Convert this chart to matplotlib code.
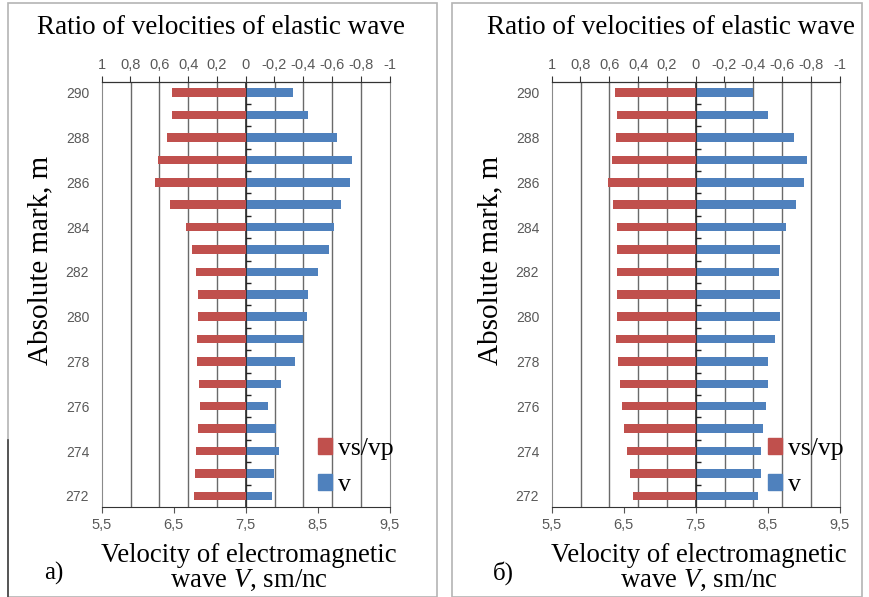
import numpy as np
import matplotlib
matplotlib.use("Agg")
import matplotlib.pyplot as plt
from matplotlib.patches import Rectangle, Patch

plt.rcParams['mathtext.fontset'] = 'custom'
plt.rcParams['mathtext.rm'] = 'Liberation Serif'
plt.rcParams['mathtext.it'] = 'Liberation Serif:italic'

# absolute marks, m (bottom to top)
marks = np.arange(272, 291)

# panel a)
ratio_a = [0.359, 0.352, 0.345, 0.333, 0.319, 0.324, 0.34, 0.34, 0.329, 0.333,
           0.347, 0.375, 0.417, 0.526, 0.63, 0.611, 0.544, 0.514, 0.514]
vel_a = [7.87, 7.90, 7.96, 7.92, 7.81, 7.99, 8.19, 8.29, 8.35, 8.37,
         8.51, 8.66, 8.73, 8.83, 8.95, 8.98, 8.77, 8.36, 8.16]

# panel б)
ratio_b = [0.433, 0.456, 0.479, 0.496, 0.512, 0.526, 0.542, 0.551, 0.547, 0.544,
           0.544, 0.544, 0.549, 0.576, 0.607, 0.583, 0.553, 0.547, 0.56]
vel_b = [8.37, 8.40, 8.41, 8.44, 8.48, 8.51, 8.51, 8.60, 8.67, 8.67,
         8.65, 8.67, 8.76, 8.89, 9.01, 9.04, 8.86, 8.51, 8.29]

ratio_ticks = [1, 0.8, 0.6, 0.4, 0.2, 0, -0.2, -0.4, -0.6, -0.8, -1]
vel_ticks = [5.5, 6.5, 7.5, 8.5, 9.5]
vel_base = 7.5

RED = '#C0504D'
BLUE = '#4F81BD'
GRAY_TXT = '#595959'
SERIF = 'Liberation Serif'
SANS = 'Liberation Sans'

W, H = 870, 597
fig = plt.figure(figsize=(W / 100, H / 100), dpi=100)


def fx(px):
    return px / W


def fy(py):
    return 1 - py / H


def comma(v):
    s = ('%g' % v).replace('.', ',')
    return '0' if s == '-0' else s


def draw_panel(x0, ratio, vel, tag, box):
    # panel frame
    fig.patches.append(Rectangle((fx(box[0]), fy(box[3])), fx(box[2] - box[0]),
                                 (box[3] - box[1]) / H, transform=fig.transFigure,
                                 fill=False, edgecolor='#b4b4b4', lw=1.2))

    ax = fig.add_axes([fx(x0), fy(507), fx(288), (507 - 81.5) / H])
    ax.set_xlim(5.5, 9.5)
    ax.set_ylim(271.5, 290.5)

    # vertical grid lines at every top-axis step
    grid_x = np.linspace(5.5, 9.5, len(ratio_ticks))
    ax.vlines(grid_x[1:-1], 271.5, 290.5, color='#6a6a6a', lw=1.0, zorder=1)

    ax.barh(marks, np.array(vel) - vel_base, left=vel_base, height=0.38,
            color=BLUE, zorder=3)
    ax.axvline(vel_base, color='#222222', lw=1.1, zorder=4)
    # category separators on the zero axis
    ax.hlines(marks[:-1] + 0.5, vel_base, vel_base + 0.07, color='#222222',
              lw=1.0, zorder=4)

    ax.set_xticks(vel_ticks)
    ax.set_xticklabels([comma(v) for v in vel_ticks], fontsize=10.5,
                       color=GRAY_TXT, family=SANS)
    ax.tick_params(axis='x', length=4, width=0.8, color='#555555', pad=4)
    ax.set_yticks(marks[::2])
    ax.set_yticklabels([str(m) for m in marks[::2]], fontsize=10,
                       color=GRAY_TXT, family=SANS)
    ax.tick_params(axis='y', length=0, pad=9)
    for side in ['left', 'right']:
        ax.spines[side].set_color('#8a8a8a')
    ax.spines['bottom'].set_color('#333333')

    ax2 = ax.twiny()
    ax2.set_xlim(1, -1)
    ax2.barh(marks, ratio, height=0.38, color=RED, zorder=3)
    ax2.set_xticks(ratio_ticks)
    ax2.set_xticklabels([comma(v) for v in ratio_ticks], fontsize=10.5,
                        color=GRAY_TXT, family=SANS)
    ax2.tick_params(axis='x', length=4, width=0.8, color='#333333', pad=3)
    ax2.spines['top'].set_color('#333333')
    for side in ['left', 'right', 'bottom']:
        ax2.spines[side].set_visible(False)

    cx = x0 + 144
    fig.text(fx(cx - 25), fy(28), 'Ratio of velocities of elastic wave',
             ha='center', va='center', fontsize=19.5, family=SERIF)
    fig.text(fx(x0 - 61), fy(260), 'Absolute mark, m', rotation=90,
             ha='center', va='center', fontsize=21, family=SERIF)
    fig.text(fx(cx + 3), fy(555), 'Velocity of electromagnetic',
             ha='center', va='center', fontsize=19.3, family=SERIF)
    fig.text(fx(cx + 3), fy(580), 'wave $V$, sm/nc',
             ha='center', va='center', fontsize=19.3, family=SERIF)
    fig.text(fx(x0 - 48), fy(573), tag, ha='center', va='center',
             fontsize=18, family=SERIF)

    handles = [Patch(color=RED, label='vs/vp'), Patch(color=BLUE, label='v')]
    fig.legend(handles=handles, loc='upper left',
               bbox_to_anchor=(fx(x0 + 216), fy(438)), frameon=False,
               prop={'family': SERIF, 'size': 18.5}, handlelength=0.55,
               handleheight=0.55, handletextpad=0.25, labelspacing=0.55,
               borderpad=0, borderaxespad=0)


draw_panel(101.7, ratio_a, vel_a, 'a)', (8, 3, 437, 597))
draw_panel(551.7, ratio_b, vel_b, 'б)', (452, 3, 862, 597))

# dark scan edge at the lower left
fig.add_artist(plt.Line2D([fx(8), fx(8)], [fy(440), fy(597)],
                          transform=fig.transFigure, color='#444444', lw=1.2))

fig.savefig('out.png', dpi=100)
